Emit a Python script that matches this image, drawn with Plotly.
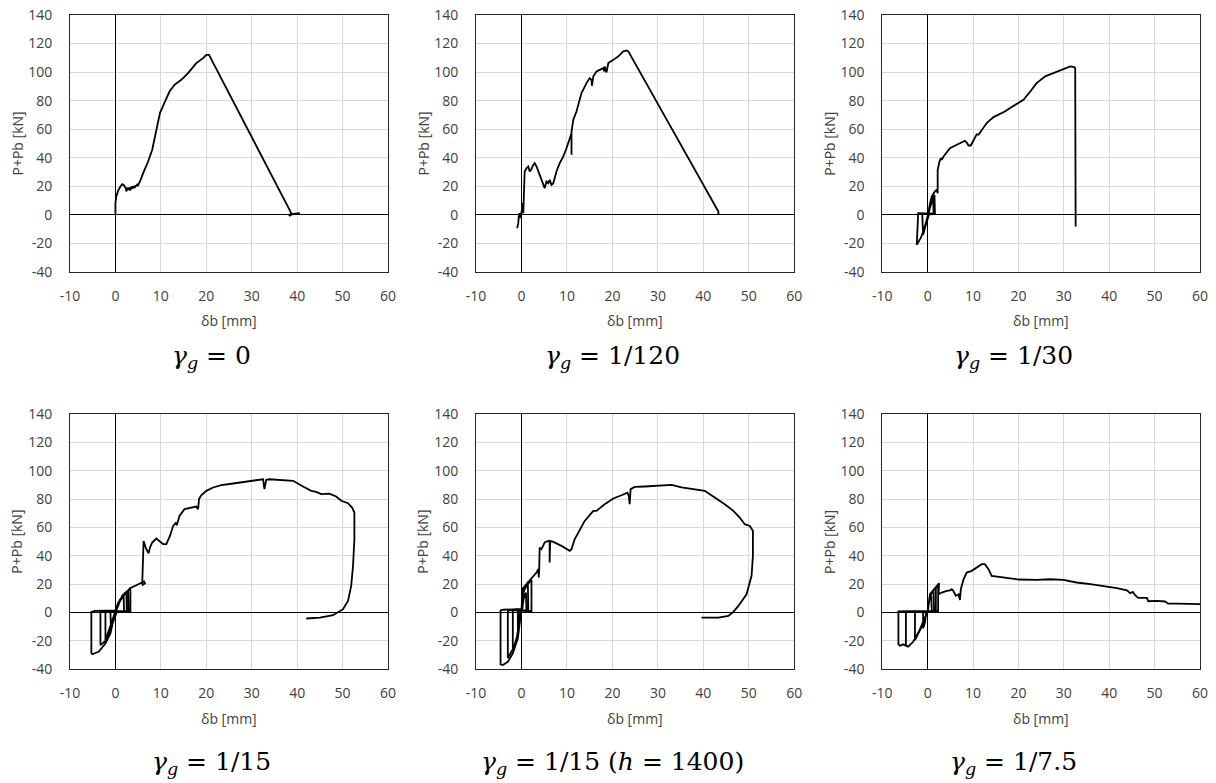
import plotly.graph_objects as go

# ---------------- data ----------------
x_ticks = [-10, 0, 10, 20, 30, 40, 50, 60]
x_tick_text = ["-10", "0", "10", "20", "30", "40", "50", "60"]
y_ticks = [-40, -20, 0, 20, 40, 60, 80, 100, 120, 140]
y_tick_text = ["-40", "-20", "0", "20", "40", "60", "80", "100", "120", "140"]

captions = [
    "<i>γ</i><sub><i>g</i></sub> = 0",
    "<i>γ</i><sub><i>g</i></sub> = 1/120",
    "<i>γ</i><sub><i>g</i></sub> = 1/30",
    "<i>γ</i><sub><i>g</i></sub> = 1/15",
    "<i>γ</i><sub><i>g</i></sub> = 1/15 (<i>h</i> = 1400)",
    "<i>γ</i><sub><i>g</i></sub> = 1/7.5",
]

# gamma_g = 0
x_g0 = [0, 0, 0.2, 0.6, 1.1, 1.5, 1.8, 2.1, 2.3, 2.4, 2.6, 2.8, 3.0, 3.2, 3.4, 3.5, 3.7, 3.9, 4.1,
        4.3, 4.5, 4.6, 4.8, 5.0, 5.4, 6.1, 7.2, 8.1, 8.4, 8.9, 9.8, 10.9, 11.9, 13.0, 14.5, 16.0,
        17.8, 19.3, 20.0, 20.6, 38.7, 38.2, 39.1, 40.4, 40.5]
y_g0 = [0, 8.2, 12.9, 17.0, 19.9, 21.5, 21.0, 19.9, 18.7, 16.4, 19.0, 17.5, 19.2, 17.0, 19.5, 18.0,
        20.0, 18.5, 20.2, 19.4, 20.6, 19.9, 21.2, 20.8, 23.4, 29.2, 37.4, 45.6, 50.2, 59.6, 71.3,
        79.4, 86.4, 91.1, 94.6, 99.3, 106.3, 109.8, 112.1, 112.1, 1.2, -0.7, 0.7, 1.2, 0]

# gamma_g = 1/120
x_g120 = [-0.95, -0.7, -0.6, -0.4, -0.2, 0.0, 0.15, 0.3, 0.4, 0.5, 0.6, 0.7, 1.1, 1.5, 1.8, 2.1,
          2.6, 2.9, 3.3, 4.0, 4.8, 5.1, 5.5, 5.9, 6.2, 6.6, 7.0, 7.7, 8.4, 9.2, 9.9, 10.6, 11.0,
          11.0, 11.0, 11.4, 12.1, 12.8, 13.2, 14.3, 15.0, 15.4, 15.5, 15.8, 16.5, 17.2, 18.0, 18.2,
          18.3, 18.7, 19.1, 20.2, 21.3, 22.4, 23.1, 23.5, 43.3, 43.3, 43.4]
y_g120 = [-9.3, -5.8, -1.2, 1.2, -2.3, 1.2, 3.5, 8.2, 1.2, 10.5, 24.5, 30.4, 32.7, 33.9, 30.4, 31.5,
          35.0, 36.2, 33.9, 28.0, 21.0, 18.7, 23.4, 22.2, 24.5, 21.0, 22.2, 30.4, 36.2, 40.9, 46.7,
          52.6, 57.2, 42.1, 58.4, 66.6, 72.4, 80.6, 85.3, 92.3, 95.8, 94.6, 90.4, 97.0, 100.5, 101.6,
          102.8, 100.5, 104.0, 99.8, 106.3, 108.6, 111.0, 114.5, 115.2, 114.5, 2.3, 0.0, 1.2]

# gamma_g = 1/30
x_g30 = [0, 0.6, 1.2, 1.3, 0.3, -0.5, -1.0, -1.2, 0.2, 0.9, 1.5, 1.6, -0.2, -2.1, -2.4, -1.5,
         -0.7, 0.0, 0.5, 0.9, 1.6, 2.0, 2.2, 2.2, 2.6, 2.9, 3.1, 3.5, 4.9, 6.4, 7.9, 8.2, 8.6, 9.0,
         9.5, 10.1, 10.8, 11.2, 11.9, 13.0, 14.5, 15.6, 17.0, 18.5, 20.0, 21.1, 22.6, 24.0, 25.9,
         27.7, 29.9, 31.4, 32.3, 32.5, 32.6]
y_g30 = [0, 6.0, 12.0, 0.5, 0.3, -8.0, -14.0, 0.8, 1.0, 10.0, 14.0, 0.8, 1.2, 1.2, -21.0, -16.0,
         -9.0, -1.0, 8.0, 13.0, 16.4, 17.5, 15.2, 31.5, 37.4, 39.7, 38.6, 40.9, 46.7, 49.1, 51.4,
         51.9, 50.7, 48.6, 48.6, 52.6, 56.5, 56.1, 59.6, 64.3, 68.5, 70.1, 72.4, 75.5, 78.3, 80.6,
         86.4, 92.3, 97.0, 99.3, 102.1, 104.0, 103.5, 102.8, -8.2]

# gamma_g = 1/15
x_g15 = [0, 1.0, 1.8, 1.9, 0.3, -0.5, -1.0, -1.1, 0.0, 1.2, 2.4, 2.5, 0.0, -1.5, -2.2, -2.2, 0.0,
         1.0, 2.0, 2.8, 2.9, 0.0,
         1.5, 3.0, 3.3, 3.3, 0.0, -1.0, -2.2, -3.3, -3.3, 0.0, -1.1, -2.2, -3.7, -5.1, -5.3, -5.3,
         -4.5, 0.0, 0.6, 1.7, 3.2, 4.6, 5.7, 6.3, 6.5, 6.0, 5.9, 6.1, 6.2, 6.8, 7.3, 7.6, 8.1, 9.0,
         9.6, 10.5, 11.2, 12.0, 12.7, 13.3, 13.5, 14.1, 15.2, 16.7, 17.8, 18.2, 18.4, 18.9, 20.0,
         21.5, 23.3, 25.9, 28.8, 31.7, 32.5, 32.8, 33.2, 33.9, 36.9, 39.1, 41.3, 43.1, 44.2, 45.3,
         47.1, 48.6, 49.7, 51.2, 52.1, 52.6, 52.6, 52.3, 51.9, 51.2, 50.1, 47.9, 45.0, 42.0]
y_g15 = [0, 8.0, 12.0, 0.5, 0.5, -6.0, -11.0, 0.5, 1.0, 10.0, 14.0, 0.5, 1.0, -13.0, -19.5, 0.5,
         1.0, 9.0, 13.5, 15.5, 1.0, 1.0,
         12.0, 16.0, 17.0, 0.5, 1.0, -12.0, -20.0, -23.0, 0.8, 1.2, -14.8, -21.9, -27.7, -29.4,
         -28.5, 0.5, 1.2, 1.5, 7.0, 11.8, 17.2, 19.3, 21.2, 22.0, 20.5, 19.5, 20.5, 49.4, 50.5, 44.7,
         41.8, 45.8, 49.4, 52.2, 50.5, 48.2, 48.2, 54.0, 61.0, 63.5, 61.5, 68.2, 72.9, 74.0, 74.7,
         72.9, 80.0, 82.7, 85.8, 88.2, 89.8, 91.0, 92.1, 93.3, 94.0, 87.0, 93.6, 94.0, 93.6, 92.9,
         88.9, 85.8, 85.1, 83.5, 83.9, 81.8, 78.8, 77.1, 74.0, 70.5, 51.7, 32.9, 18.8, 8.2, 2.4,
         -1.9, -3.5, -4.2]

# gamma_g = 1/15 (h = 1400)
x_g15h = [0, 0.5, 1.0, 1.1, -0.3, -0.6, -0.8, -0.8, 0.0, 0.3, 0.7, 1.4, 1.5, 0.0, -1.0, -1.9,
          -1.9, 0.2, 0.5, 1.2, 2.2, 2.2, 0.0, -1.2, -3.0, -3.0, -2.0, 0.0, -0.8, -1.9, -3.0, -4.1,
          -4.6, -4.6, -4.0, 0.0, 0.3, 1.0, 2.2, 3.3, 3.7, 3.8, 3.9, 4.0, 4.4, 4.6, 5.1, 5.9, 6.2,
          6.2, 6.3, 7.0, 8.8, 10.6, 11.0, 11.7, 12.5, 13.9, 15.8, 16.5, 18.3, 20.2, 22.0, 23.3,
          23.6, 23.8, 24.0, 24.9, 27.1, 30.1, 33.0, 35.2, 38.1, 40.3, 42.5, 44.7, 46.6, 48.0, 49.1,
          50.2, 50.9, 50.9, 50.6, 49.5, 47.7, 46.6, 45.5, 43.3, 39.6]
y_g15h = [0, 10.0, 14.0, 1.0, 1.5, -10.0, -14.0, 1.2, 1.5, 12.0, 17.0, 21.7, 1.0, 1.8, -17.0,
          -27.5, 1.5, 1.8, 15.0, 19.5, 22.9, 1.0, 1.8, -22.0, -32.0, 1.5, 1.8, 2.0, -18.2, -28.8,
          -34.7, -37.0, -36.5, 1.5, 2.0, 2.5, 17.0, 19.5, 23.5, 28.2, 30.6, 24.7, 31.0, 45.8, 44.7,
          45.8, 49.4, 50.5, 50.5, 35.3, 50.5, 49.8, 47.0, 43.5, 44.7, 51.7, 56.4, 64.6, 71.7, 71.7,
          76.4, 80.4, 82.7, 84.6, 82.3, 76.4, 87.0, 88.6, 88.9, 89.3, 90.0, 88.2, 87.0, 85.8, 81.1,
          76.4, 71.7, 67.0, 62.3, 61.1, 57.6, 40.0, 25.9, 12.9, 4.7, 0.5, -2.4, -3.5, -3.5]

# gamma_g = 1/7.5
x_g75 = [0, 0.3, 0.8, 0.9, -0.3, -0.6, -1.0, -1.0, 0.0, 0.5, 1.3, 1.4, 0.0, -1.0, -2.1, -2.8,
         -2.8, 0.0, 0.6, 1.5, 1.8, 1.8, 0.0, -1.0, -2.1, -3.2, -4.3, -4.8, -4.8, 0.0, 0.5, 2.3, 2.3,
         0.0, -2.1, -3.2, -4.3, -5.4, -6.1, -6.45, -6.45, 0.0, 0.5, 1.6, 2.5, 2.4, 3.1, 4.2, 4.9,
         5.3, 5.7, 6.2, 6.8, 7.1, 7.3, 7.9, 8.6, 9.7, 10.8, 11.9, 12.6, 13.4, 14.1, 15.9, 18.1,
         20.0, 24.0, 27.0, 29.9, 32.8, 35.8, 38.7, 41.7, 43.9, 44.6, 45.2, 45.7, 46.4, 48.3, 48.6,
         50.5, 52.3, 53.0, 54.9, 57.8, 60.4]
y_g75 = [0, 8.0, 12.0, 0.5, 0.8, -7.0, -11.0, 0.8, 1.0, 12.0, 15.0, 1.0, 1.0, -8.0, -15.0, -19.4,
         0.8, 1.0, 13.0, 16.5, 17.5, 1.0, 1.0, -8.0, -14.7, -20.6, -24.0, -23.0, 0.8, 1.2, 13.0,
         19.4, 1.0, 1.0, -14.7, -20.6, -24.0, -22.4, -23.4, -22.4, 0.8, 1.2, 13.0, 17.0, 20.7, 12.9,
         14.1, 15.3, 15.7, 16.5, 15.0, 11.8, 12.9, 8.9, 16.5, 23.5, 28.2, 29.4, 31.7, 34.1, 34.1,
         30.6, 25.9, 25.2, 24.2, 23.3, 23.0, 23.5, 23.0, 21.2, 20.0, 18.8, 17.2, 15.7, 13.6, 14.6,
         12.2, 10.3, 10.3, 8.0, 8.2, 7.8, 6.3, 6.3, 5.9, 5.9]

series = [(x_g0, y_g0), (x_g120, y_g120), (x_g30, y_g30),
          (x_g15, y_g15), (x_g15h, y_g15h), (x_g75, y_g75)]

# ---------------- layout (pixel geometry of the reference) ----------------
# The page body margin is removed (post_script below), so the figure fills
# the window and reference pixel positions map directly to paper coordinates.
W, H = 1216, 783
col_px = [(70, 388), (476, 794.3), (882.3, 1200)]
row_px = [(15, 272), (414, 669.3)]
caption_x_px = [212, 612, 1013]
caption_y_px = [357, 763]
xtitle_y_px = [320, 718]


def px_x(v):
    return v / W


def px_y(v):
    return 1 - v / H


fig = go.Figure()
annotations = []
layout_axes = {}

for i, (xs, ys) in enumerate(series):
    r, c = divmod(i, 3)
    n = i + 1
    xa = "x" if n == 1 else f"x{n}"
    ya = "y" if n == 1 else f"y{n}"
    fig.add_trace(go.Scatter(x=xs, y=ys, mode="lines", xaxis=xa, yaxis=ya,
                             line=dict(color="black", width=1.8), showlegend=False,
                             hoverinfo="skip"))
    x0, x1 = col_px[c]
    y0, y1 = row_px[r]
    common = dict(showgrid=True, gridcolor="#d9d9d9", gridwidth=1,
                  zeroline=True, zerolinecolor="#000000", zerolinewidth=1,
                  showline=True, linecolor="#262626", linewidth=1, mirror=True,
                  ticks="", tickfont=dict(family="Open Sans", size=14, color="#404040"),
                  ticklabeloverflow="allow", automargin=False, fixedrange=True)
    layout_axes[f"xaxis{'' if n == 1 else n}"] = dict(
        domain=[px_x(x0), px_x(x1)], range=[-10, 60], tickmode="array",
        tickvals=x_ticks, ticktext=x_tick_text, anchor=ya,
        ticklabelstandoff=11, **common)
    layout_axes[f"yaxis{'' if n == 1 else n}"] = dict(
        domain=[px_y(y1), px_y(y0)], range=[-40, 140], tickmode="array",
        tickvals=y_ticks, ticktext=y_tick_text, anchor=xa,
        ticklabelstandoff=14, **common)

    # axis titles and captions
    annotations.append(dict(text="P+Pb [kN]", textangle=-90, xref="paper", yref="paper",
                            x=px_x(x0 - 53), y=px_y((y0 + y1) / 2), showarrow=False,
                            xanchor="center", yanchor="middle",
                            font=dict(family="Open Sans", size=14, color="#404040")))
    annotations.append(dict(text="δb [mm]", xref="paper", yref="paper",
                            x=px_x((x0 + x1) / 2), y=px_y(xtitle_y_px[r]), showarrow=False,
                            xanchor="center", yanchor="middle",
                            font=dict(family="Open Sans", size=14, color="#404040")))
    annotations.append(dict(text=captions[i], xref="paper", yref="paper",
                            x=px_x(caption_x_px[c]), y=px_y(caption_y_px[r]), showarrow=False,
                            xanchor="center", yanchor="middle",
                            font=dict(family="DejaVu Serif", size=25, color="#000000")))

fig.update_layout(width=W, height=H, margin=dict(l=0, r=0, t=0, b=0),
                  template="none", paper_bgcolor="white", plot_bgcolor="white",
                  hovermode=False, annotations=annotations, **layout_axes)

fig.write_html("out.html",
               config={"displayModeBar": False, "staticPlot": True},
               post_script="document.body.style.margin='0px';document.body.style.overflow='hidden';")
